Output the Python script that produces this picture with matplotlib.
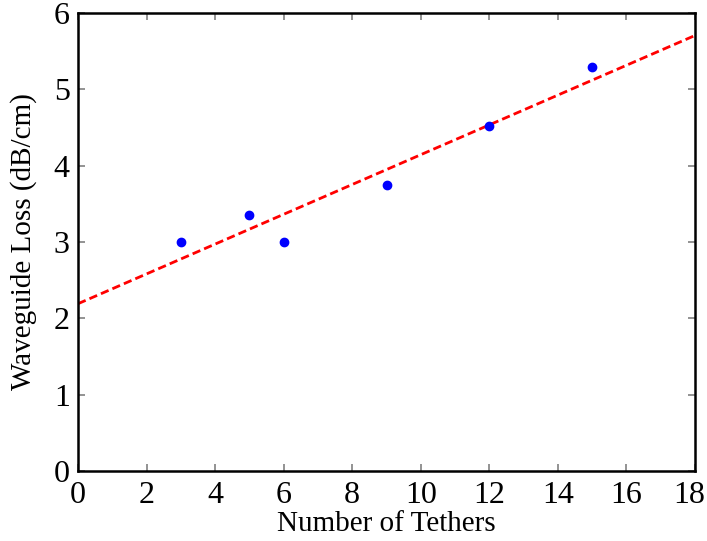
import numpy as np
import matplotlib.pyplot as plt
import matplotlib.transforms as mtransforms

plt.rcParams['font.family'] = ['Liberation Serif', 'DejaVu Serif']

tethers = [3, 5, 6, 9, 12, 15]
loss = [3.0, 3.35, 3.0, 3.75, 4.52, 5.29]

# linear fit across the full axis range
slope, icpt = np.polyfit(tethers, loss, 1)
t = np.array([0, 18])

fig = plt.figure(figsize=(7.07, 5.41), dpi=100)
ax = fig.add_axes([78/707, 1 - 471/541, 617/707, 458/541])

ax.plot(tethers, loss, 'o', color='blue', markersize=6, zorder=3)
ax.plot(t, slope * t + icpt, '--', color='red', lw=2, dashes=(3, 1.5))

ax.set_xlim(0, 18)
ax.set_ylim(0, 6)
ax.set_xticks(range(0, 19, 2))
ax.set_yticks(range(0, 7))
ax.tick_params(direction='in', top=True, right=True, color='gray',
               length=5, width=1.2, labelsize=23)
ax.tick_params(axis='x', pad=7)
ax.tick_params(axis='y', pad=6)
for s in ax.spines.values():
    s.set_linewidth(1.8)

# keep the last x tick label inside the canvas
lbl = ax.get_xticklabels()[-1]
lbl.set_transform(lbl.get_transform() +
                  mtransforms.ScaledTranslation(-4/72, 0, fig.dpi_scale_trans))

ax.set_xlabel("Number of Tethers", fontsize=21, labelpad=1)
ax.set_ylabel("Waveguide Loss (dB/cm)", fontsize=21, labelpad=12)

fig.savefig("out.png", dpi=100)
